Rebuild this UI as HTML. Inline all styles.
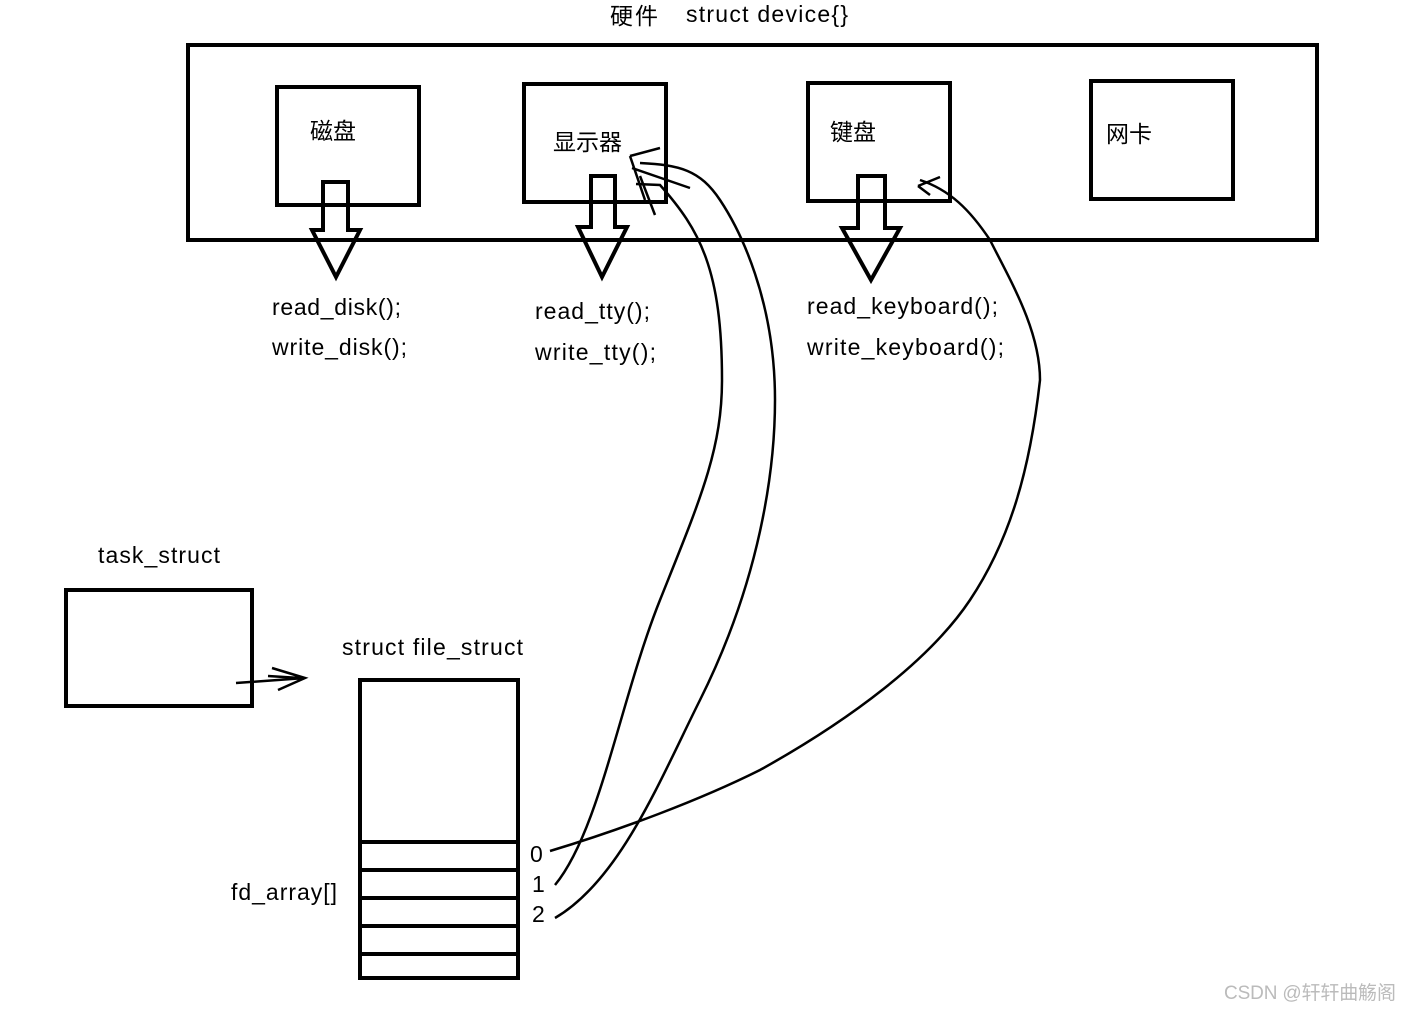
<!DOCTYPE html>
<html><head><meta charset="utf-8"><style>
body{margin:0;background:#fff}
svg text{font-family:"Liberation Sans","Noto Sans CJK SC",sans-serif;fill:#000}
</style></head><body>
<svg width="1410" height="1011" viewBox="0 0 1410 1011" xmlns="http://www.w3.org/2000/svg">
<g fill="none" stroke="#000" stroke-width="4">
<rect x="188" y="45" width="1129" height="195"/>
<rect x="277" y="87" width="142" height="118"/>
<rect x="524" y="84" width="142" height="118"/>
<rect x="808" y="83" width="142" height="118"/>
<rect x="1091" y="81" width="142" height="118"/>
<path d="M323,182 L348,182 L348,230 L360,230 L336,277 L312,230 L323,230 Z"/>
<path d="M591,176 L615,176 L615,227 L627,227 L602,277 L578,227 L591,227 Z"/>
<path d="M858,176 L885,176 L885,228 L900,228 L871,280 L842,228 L858,228 Z"/>
<rect x="66" y="590" width="186" height="116"/>
<rect x="360" y="680" width="158" height="298"/>
<path d="M360,842 H518 M360,870 H518 M360,898 H518 M360,926 H518 M360,954 H518"/>
</g>
<g fill="none" stroke="#000" stroke-width="2.5">
<path d="M236,683 L305,678 M272,668 L305,678 L278,690 M268,676 L300,678"/>
<path d="M555,885 C600,830 620,700 660,600 C700,500 722,450 722,380 C722,270 700,230 660,185 L636,184"/>
<path d="M555,918 C620,880 660,780 700,700 C760,580 775,470 775,400 C775,300 740,230 720,200 C700,170 680,165 640,163"/>
<path d="M550,851 C620,830 700,800 760,770 C850,720 930,660 970,600 C1010,540 1030,470 1040,380 C1040,330 1010,280 990,240 C970,210 950,190 920,180"/>
<path d="M630,156 L660,148 M630,156 L645,200 M632,168 L690,188 M640,176 L655,215"/>
<path d="M918,186 L940,177 M918,186 L930,195"/>
</g>
<g font-size="23">
<text x="610" y="24" textLength="48">硬件</text>
<text x="686" y="22" textLength="162">struct device{}</text>
<text x="310" y="139">磁盘</text>
<text x="553" y="150">显示器</text>
<text x="830" y="140">键盘</text>
<text x="1106" y="142">网卡</text>
<text x="272" y="315" textLength="129">read_disk();</text>
<text x="272" y="355" textLength="135">write_disk();</text>
<text x="535" y="319" textLength="115">read_tty();</text>
<text x="535" y="360" textLength="121">write_tty();</text>
<text x="807" y="314" textLength="191">read_keyboard();</text>
<text x="807" y="355" textLength="197">write_keyboard();</text>
<text x="98" y="563" textLength="122">task_struct</text>
<text x="342" y="655" textLength="181">struct file_struct</text>
<text x="231" y="900" textLength="106">fd_array[]</text>
<text x="530" y="862">0</text>
<text x="532" y="892">1</text>
<text x="532" y="922">2</text>
</g>
<text x="1224" y="999" font-size="19" style="fill:#bbb" textLength="172">CSDN @轩轩曲觞阁</text>
</svg>
</body></html>
